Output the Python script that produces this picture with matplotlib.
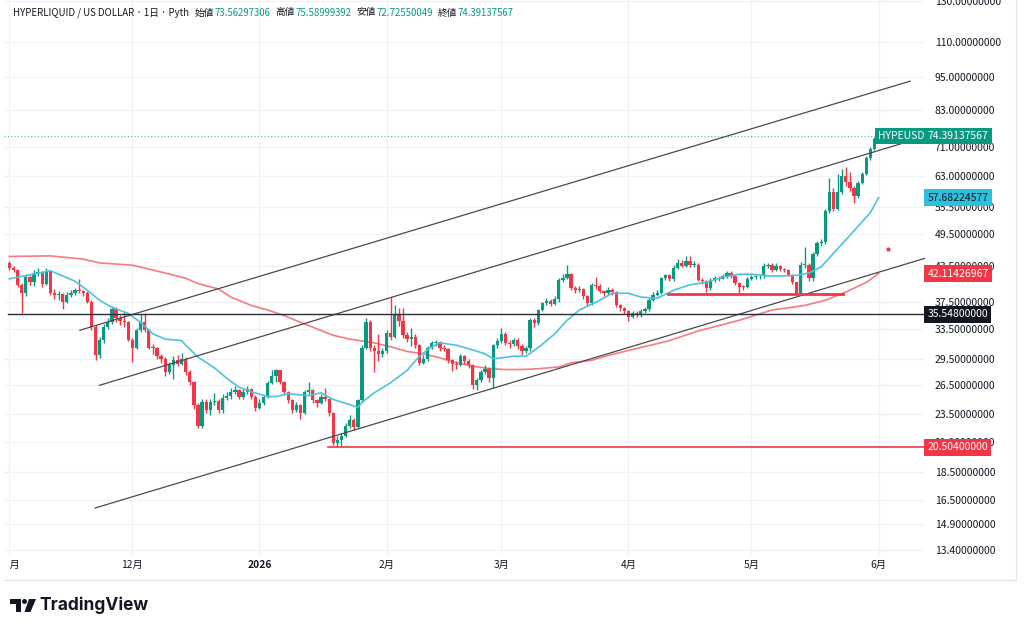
import numpy as np
import pandas as pd
import matplotlib
matplotlib.use("Agg")
import matplotlib.pyplot as plt
from matplotlib.transforms import blended_transform_factory
from matplotlib.patches import Polygon, Circle
from matplotlib.ticker import NullLocator

plt.rcParams['font.family'] = ['Noto Sans CJK JP', 'DejaVu Sans']

# ---------------- data ----------------
start_date = "2025-11-01"
first_open = 43.9
closes = [
    43.1, 42.8, 40.2, 38.8, 41.5, 40.6, 42.2, 42.4, 40.4, 42.5,
    38.9, 38.5, 38.7, 37.4, 38.6, 38.8, 39.3, 39.1, 38.9, 37.5,
    33.7, 30.0, 32.0, 33.8, 34.5, 36.3, 35.0, 34.6, 34.4, 32.0,
    31.0, 33.3, 34.5, 33.3, 31.0, 30.9, 29.9, 29.5, 28.0, 28.8,
    29.4, 29.0, 29.6, 28.0, 26.9, 24.4, 22.4, 24.7, 23.9, 24.7,
    24.8, 23.9, 25.2, 25.4, 25.8, 26.0, 25.3, 25.8, 26.1, 25.3,
    24.1, 24.6, 25.3, 26.8, 27.6, 28.2, 26.9, 25.8, 24.9, 23.9,
    24.4, 23.6, 25.8, 26.0, 24.9, 24.6, 25.3, 25.0, 23.6, 20.9,
    21.1, 21.5, 22.4, 23.0, 22.3, 24.9, 31.0, 34.4, 31.0, 30.6,
    30.2, 30.6, 32.9, 32.4, 35.4, 34.6, 32.7, 32.1, 32.4, 31.3,
    29.1, 29.6, 31.0, 31.6, 31.7, 31.0, 30.8, 29.4, 28.9, 28.8,
    29.9, 29.3, 28.8, 26.5, 27.1, 28.0, 28.4, 27.3, 31.3, 31.8,
    32.8, 31.6, 31.5, 32.0, 31.2, 30.5, 30.9, 34.7, 34.3, 36.2,
    37.2, 37.6, 37.1, 37.9, 41.0, 41.3, 42.0, 39.7, 39.3, 39.5,
    38.3, 37.2, 40.2, 40.0, 39.2, 38.8, 39.4, 39.0, 36.9, 36.5,
    36.0, 35.2, 35.8, 35.5, 36.0, 36.4, 37.8, 38.6, 38.9, 41.3,
    41.8, 41.2, 43.1, 43.9, 43.5, 44.3, 43.6, 43.7, 41.0, 40.9,
    39.7, 41.0, 41.3, 41.2, 41.6, 42.2, 41.7, 40.5, 39.9, 39.8,
    41.2, 41.5, 41.6, 41.6, 43.4, 43.6, 42.8, 43.5, 42.9, 42.7,
    41.9, 40.6, 38.9, 43.6, 43.7, 41.3, 45.6, 47.8, 48.0, 54.5,
    59.0, 55.1, 59.0, 63.0, 61.4, 59.9, 58.0, 61.2, 63.6, 68.0,
    70.6, 73.56297306, 74.39137567,
]
highs = [
    44.4, 43.4, 42.9, 40.5, 42.0, 41.8, 42.8, 43.0, 42.6, 43.1,
    42.6, 39.5, 39.2, 38.9, 39.0, 39.4, 39.6, 41.2, 39.4, 39.2,
    37.8, 34.0, 32.4, 34.2, 35.0, 36.8, 36.6, 35.4, 35.9, 34.6,
    32.2, 33.6, 35.6, 35.8, 33.5, 31.4, 31.1, 30.2, 29.8, 29.2,
    29.9, 30.0, 30.3, 29.8, 28.3, 27.0, 24.6, 25.0, 25.0, 25.0,
    25.7, 25.0, 25.6, 25.8, 26.2, 26.4, 26.1, 26.1, 26.4, 26.2,
    25.5, 25.0, 25.5, 27.0, 28.3, 28.4, 28.3, 27.0, 25.9, 25.0,
    24.7, 24.5, 26.0, 26.9, 26.1, 25.1, 25.6, 26.2, 25.1, 23.7,
    21.5, 21.8, 22.7, 23.4, 23.2, 25.1, 31.3, 35.0, 34.8, 31.3,
    32.8, 31.0, 33.3, 38.2, 37.0, 36.5, 36.5, 33.0, 33.6, 32.8,
    31.5, 30.0, 31.2, 31.9, 32.0, 31.8, 31.3, 30.9, 29.6, 29.3,
    30.2, 30.0, 29.5, 29.0, 27.3, 28.3, 28.8, 28.6, 31.5, 32.2,
    33.6, 33.0, 32.0, 32.3, 32.2, 31.4, 31.2, 35.0, 35.0, 36.4,
    37.5, 38.0, 37.9, 38.4, 41.3, 42.0, 43.6, 42.2, 40.0, 40.0,
    39.6, 38.5, 40.5, 41.5, 40.3, 39.4, 39.8, 39.6, 39.1, 37.1,
    36.7, 36.2, 36.0, 36.0, 36.3, 36.7, 38.1, 39.0, 39.3, 41.5,
    42.1, 42.0, 43.6, 44.8, 44.6, 45.3, 45.2, 44.3, 43.9, 41.4,
    41.0, 41.4, 41.7, 41.7, 42.0, 42.6, 42.5, 41.9, 40.7, 40.2,
    41.5, 41.9, 41.9, 42.0, 44.0, 43.9, 43.9, 43.9, 43.6, 43.1,
    42.9, 42.0, 40.7, 44.2, 47.0, 44.0, 46.0, 48.2, 48.6, 55.0,
    62.5, 60.0, 63.5, 64.8, 65.4, 64.2, 60.5, 61.8, 64.0, 68.5,
    71.0, 74.2, 75.58999392,
]
lows = [
    42.8, 42.4, 39.8, 35.7, 38.3, 40.2, 40.0, 41.6, 39.8, 40.2,
    38.5, 37.9, 37.7, 36.3, 37.2, 38.2, 38.5, 38.8, 38.4, 37.2,
    33.3, 29.4, 29.7, 31.6, 33.5, 34.2, 34.4, 34.0, 33.8, 31.8,
    29.2, 30.8, 33.0, 33.0, 30.8, 30.2, 29.6, 29.1, 27.6, 27.8,
    27.2, 28.7, 28.8, 27.7, 26.5, 24.0, 22.2, 22.2, 23.6, 23.4,
    24.4, 23.6, 23.6, 24.9, 25.0, 25.6, 25.0, 25.0, 25.6, 25.1,
    23.8, 24.0, 24.4, 25.2, 26.6, 26.9, 26.6, 25.5, 24.6, 23.6,
    23.7, 23.1, 23.5, 25.6, 24.6, 24.2, 24.5, 24.8, 23.3, 20.7,
    20.504, 20.6, 21.4, 22.2, 22.0, 22.2, 24.7, 30.8, 30.6, 28.0,
    29.3, 29.8, 30.3, 32.0, 32.2, 33.9, 32.3, 31.7, 31.2, 31.0,
    28.8, 28.9, 29.3, 30.8, 31.2, 30.6, 30.5, 29.1, 28.1, 28.4,
    28.7, 29.0, 28.5, 26.1, 26.0, 26.9, 27.8, 26.9, 26.2, 31.0,
    31.6, 31.3, 30.9, 31.2, 30.8, 30.1, 30.3, 30.5, 33.8, 34.0,
    36.0, 36.9, 36.8, 36.9, 37.4, 40.6, 41.2, 39.3, 38.8, 39.0,
    37.9, 36.8, 37.0, 39.5, 38.9, 38.4, 38.5, 38.6, 36.6, 36.1,
    35.6, 34.6, 35.0, 35.2, 35.2, 35.8, 36.1, 37.6, 38.3, 38.7,
    41.0, 40.8, 40.9, 42.9, 43.2, 43.3, 43.3, 43.2, 40.8, 40.4,
    39.0, 39.4, 40.7, 40.9, 41.1, 41.3, 41.3, 40.2, 38.9, 39.3,
    39.6, 41.0, 41.2, 41.2, 41.4, 43.0, 42.4, 42.5, 42.6, 42.3,
    41.6, 40.3, 38.7, 38.8, 43.0, 40.9, 40.9, 45.3, 47.2, 47.6,
    54.2, 54.5, 54.8, 58.6, 60.6, 59.3, 56.5, 57.5, 60.9, 63.3,
    67.5, 70.3, 72.72550049,
]

# moving averages (day offset from start, value)
ma_fast_days = [0, 10, 16, 19, 22, 25, 29, 32, 35, 38, 42, 43, 46, 50, 53, 56, 59, 63, 65,
                68, 73, 76, 79, 82, 85, 86, 89, 93, 97, 100, 103, 105, 109, 113, 116, 118,
                120, 123, 126, 129, 133, 136, 139, 144, 147, 151, 154, 158, 162, 166, 170,
                174, 178, 181, 185, 188, 192, 195, 198, 201, 204, 207, 210, 212]
ma_fast = [41.2, 42.6, 40.8, 39.3, 37.7, 36.6, 35.7, 34.4, 32.8, 32.1, 31.9, 31.3, 29.8,
           28.5, 27.3, 26.3, 25.8, 25.3, 25.3, 25.6, 25.4, 25.7, 25.0, 24.6, 24.2, 24.7,
           25.7, 26.8, 28.2, 29.9, 31.1, 31.6, 31.3, 30.7, 30.2, 29.6, 29.7, 29.9, 29.9,
           31.0, 32.8, 34.7, 36.2, 37.7, 38.8, 38.8, 38.2, 38.0, 39.3, 40.2, 40.6, 41.5,
           42.0, 42.0, 41.7, 41.7, 41.8, 42.2, 43.3, 45.8, 48.4, 51.2, 54.2, 57.68224577]
ma_slow_days = [0, 10, 18, 22, 30, 38, 43, 46, 51, 54, 59, 63, 67, 71, 75, 79, 83, 89, 93,
                97, 101, 105, 109, 113, 117, 121, 125, 129, 134, 137, 142, 146, 150, 154,
                158, 161, 168, 178, 186, 194, 199, 204, 209, 212]
ma_slow = [45.2, 45.3, 44.7, 44.0, 43.6, 42.2, 41.3, 40.4, 39.5, 38.2, 36.9, 36.2, 35.4,
           34.4, 33.5, 32.6, 32.1, 31.6, 31.1, 30.5, 30.2, 29.7, 29.1, 28.7, 28.4, 28.3,
           28.3, 28.4, 28.6, 29.1, 29.4, 30.0, 30.5, 31.0, 31.5, 31.9, 33.2, 34.7, 36.2,
           36.9, 37.7, 39.0, 40.6, 42.11426967]

# channel trend lines (day offset, price)
upper_line = [(17.2, 33.3), (219.7, 93.4)]
middle_line = [(21.9, 26.5), (219.7, 72.9)]
lower_line = [(20.9, 15.95), (223.5, 44.9)]
level_black = 35.548
level_red_low = 20.504
level_red_low_start = 77.7
support_short = 38.7
support_short_days = (160.6, 203.3)
red_dot = (214.3, 46.6)

y_ticks = [130, 110, 95, 83, 71, 63, 55.5, 49.5, 43.5, 37.5, 33.5, 29.5, 26.5, 23.5,
           21, 18.5, 16.5, 14.9, 13.4]
month_dates = ["2025-11-01", "2025-12-01", "2026-01-01", "2026-02-01", "2026-03-01",
               "2026-04-01", "2026-05-01", "2026-06-01"]
month_labels = ["11月", "12月", "2026", "2月", "3月", "4月", "5月", "6月"]

header_title = "HYPERLIQUID / US DOLLAR · 1日 · Pyth"
ohlc_names = ["始値", "高値", "安値", "終値"]
ohlc_values = ["73.56297306", "75.58999392", "72.72550049", "74.39137567"]
symbol = "HYPEUSD"

GREEN = "#089981"
RED = "#F23645"
CYAN = "#4CC3DE"
SLOW = "#F77B80"
TXT = "#131722"

# ---------------- figure ----------------
W, H = 1024, 630
fig = plt.figure(figsize=(W / 100, H / 100), dpi=100)
fig.patch.set_facecolor("white")

px_per_day = 4.1
x0_px = 9.4           # pixel of first candle
ax_l, ax_r, ax_t, ax_b = 4, 925, 0, 555
ax = fig.add_axes([ax_l / W, 1 - ax_b / H, (ax_r - ax_l) / W, (ax_b - ax_t) / H])
ax.set_facecolor("white")
for s in ax.spines.values():
    s.set_visible(False)
ax.set_yscale("log")
ax.set_xlim((ax_l - x0_px) / px_per_day, (ax_r - x0_px) / px_per_day)
ax.set_ylim(13.13, 130.7)

start = pd.Timestamp(start_date)
month_days = [(pd.Timestamp(d) - start).days for d in month_dates]

# grid + right price scale
ax.set_yticks(y_ticks)
ax.yaxis.set_minor_locator(NullLocator())
ax.set_yticklabels([f"{v:.8f}" for v in y_ticks])
ax.yaxis.tick_right()
ax.tick_params(axis="y", length=0, pad=7, labelsize=7.5, labelcolor=TXT)
ax.set_xticks(month_days)
ax.set_xticklabels([])
ax.tick_params(axis="x", length=0)
ax.grid(True, color="#EFF1F5", lw=0.8, zorder=0)
ax.set_axisbelow(True)

# candles
c = np.array(closes)
hgh = np.array(highs)
lw_ = np.array(lows)
o = np.r_[first_open, c[:-1]]
days = np.arange(len(c))
cols = np.where(c >= o, GREEN, RED)
ax.vlines(days, lw_, hgh, colors=cols, lw=1.0, zorder=4)
blo = np.minimum(o, c)
bhi = np.maximum(np.maximum(o, c), blo * 1.004)
ax.bar(days, bhi - blo, bottom=blo, width=0.8, color=cols, lw=0, zorder=5)

# moving averages
ax.plot(ma_fast_days, ma_fast, color=CYAN, lw=1.2, zorder=6)
ax.plot(ma_slow_days, ma_slow, color=SLOW, lw=1.2, zorder=3)

# trend lines
for ln in (upper_line, middle_line, lower_line):
    ax.plot([ln[0][0], ln[1][0]], [ln[0][1], ln[1][1]], color="#4A4A4A", lw=0.9, zorder=7)
xl = ax.get_xlim()
ax.plot([-0.3, xl[1]], [level_black, level_black], color="#2A2E39", lw=1.0, zorder=7)
ax.plot([level_red_low_start, xl[1]], [level_red_low, level_red_low], color=RED, lw=1.2, zorder=7)
ax.plot(support_short_days, [support_short] * 2, color=RED, lw=2.0, zorder=7)
ax.plot([red_dot[0]], [red_dot[1]], "o", color=RED, ms=2.0, zorder=7)
ax.axhline(closes[-1], color=GREEN, lw=0.8, ls=(0, (1, 2)), alpha=0.7, zorder=2)

# price tags on right scale
bt = blended_transform_factory(ax.transAxes, ax.transData)
dx = 2.5 / (ax_r - ax_l)


def tag(price, label, fc, tc):
    ax.text(1 + dx, price, label, transform=bt, ha="left", va="center", fontsize=7.5,
            color=tc, clip_on=False, zorder=20,
            bbox=dict(boxstyle="square,pad=0.32", fc=fc, ec="none"))


tag(closes[-1], f"{closes[-1]:.8f}", GREEN, "white")
ax.text(1 - 0.5 / (ax_r - ax_l), closes[-1], symbol, transform=bt, ha="right", va="center",
        fontsize=7.5, color="white", clip_on=False, zorder=20,
        bbox=dict(boxstyle="square,pad=0.32", fc=GREEN, ec="none"))
tag(ma_fast[-1], f"{ma_fast[-1]:.8f}", "#2CC0DC", TXT)
tag(ma_slow[-1], f"{ma_slow[-1]:.8f}", RED, "white")
tag(level_black, f"{level_black:.8f}", "#131722", "white")
tag(level_red_low, f"{level_red_low:.8f}", RED, "white")

# date strip
axd = fig.add_axes([10 / W, 1 - 580 / H, (ax_r - 10) / W, 25 / H])
axd.set_xlim((10 - x0_px) / px_per_day, (ax_r - x0_px) / px_per_day)
axd.set_ylim(0, 1)
axd.axis("off")
for d, lab in zip(month_days, month_labels):
    axd.text(d, 0.6, lab, ha="center", va="center", fontsize=7.4, color=TXT,
             fontweight="bold" if lab.isdigit() else "normal", clip_on=True)

# overlay in pixel coordinates
ov = fig.add_axes([0, 0, 1, 1], zorder=30)
ov.set_xlim(0, W)
ov.set_ylim(H, 0)
ov.axis("off")
ov.patch.set_alpha(0)
ov.plot([1016, 1016], [0, 580], color="#E0E3EB", lw=0.8)
ov.plot([4, 1016], [580, 580], color="#E0E3EB", lw=0.8)

# header: pieces laid out one after another
renderer = fig.canvas.get_renderer()
hx = 13.0
hy = 12.5
HFS = 6.95


def put(s, color, gap):
    global hx
    t = ov.text(hx, hy, s, fontsize=HFS, color=color, va="center", ha="left")
    hx += t.get_window_extent(renderer).width + gap


put(header_title, TXT, 6)
for nm, vv in zip(ohlc_names, ohlc_values):
    put(nm, TXT, 0.5)
    put(vv, GREEN, 5)

# TradingView logo
ov.add_patch(Polygon([[10, 599], [21, 599], [21, 612], [16, 612], [16, 604], [10, 604]],
                     closed=True, fc="#131722", ec="none"))
ov.add_patch(Circle((24.5, 601.5), 2.5, fc="#131722", ec="none"))
ov.add_patch(Polygon([[29, 599], [36, 599], [30.5, 612], [24.5, 612]], closed=True,
                     fc="#131722", ec="none"))
ov.text(39, 605.5, "TradingView", fontsize=12.5, fontweight="bold", color="#131722",
        va="center", ha="left", family=["Inter", "DejaVu Sans"])

fig.savefig("out.png", dpi=100, facecolor="white")
